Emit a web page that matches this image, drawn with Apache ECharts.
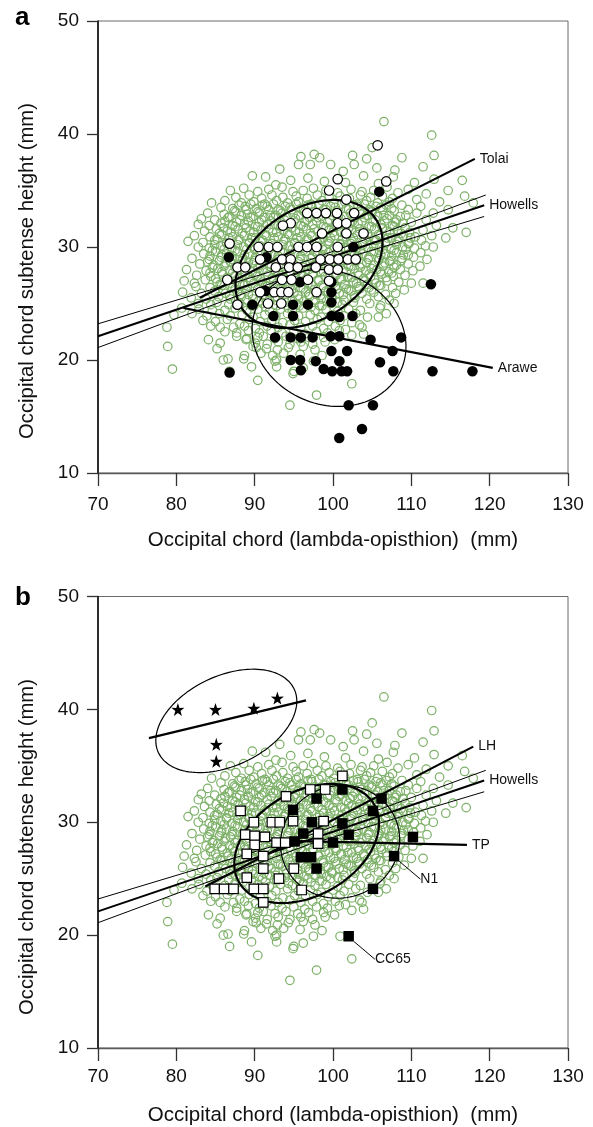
<!DOCTYPE html>
<html>
<head>
<meta charset="utf-8">
<script src="https://cdn.jsdelivr.net/npm/echarts@6/dist/echarts.min.js"></script>
<style>
  html, body { margin: 0; padding: 0; background: #fff; }
  #chart { width: 593px; height: 1127px; }
</style>
</head>
<body>
<div id="chart"></div>
<script>
// Axis ranges shared by both panels (mm)
const xRange = [70, 130];
const yRange = [10, 50];
const tickStep = 10;

// Howells reference sample: occipital chord (x) vs subtense height (y), mm
const howellsHigh = [
  [106.5,41.1],[112.6,39.9],[105.0,38.8],[95.9,38.0],[97.6,38.2],[98.3,37.9],[102.5,38.1],[108.8,37.9],[112.9,38.1],[104.3,37.8],
  [95.6,37.3],[97.1,37.3],[99.7,37.3],[102.7,37.3],[111.5,37.1],[93.2,36.9],[101.3,36.7],[105.6,37.0],[107.9,36.8],
  [89.7,36.3],[91.4,36.2],[94.6,35.9],[107.7,36.2],[112.9,36.0],[116.5,35.9],[96.8,36.1],[98.9,35.8],[103.9,36.3],[105.8,35.6],[110.4,35.7],[92.7,35.5],[101.6,35.7],
  [86.9,35.0],[94.9,34.9],[114.7,35.0],[88.6,35.2],[90.4,34.9],[91.8,35.1],[93.5,35.3],[96.2,35.0],[97.5,35.2],[99.1,35.0],[100.6,34.8],[102.3,35.1],[103.7,34.9],[105.2,35.0],[106.9,35.3],[108.3,34.8],[111.9,34.7],[109.6,35.1],
  [87.6,34.4],[89.3,34.6],[90.9,34.3],[92.2,34.6],[93.6,34.4],[95.3,34.5],[96.7,34.3],[98.0,34.6],[99.5,34.4],[100.9,34.5],[102.1,34.3],[103.5,34.6],[104.8,34.4],[106.3,34.5],[107.6,34.3],[110.7,34.2],[116.8,34.5],
  [84.5,33.9],[86.2,34.1],[88.3,33.9],[89.9,34.0],[91.3,33.8],[92.8,34.1],[94.2,33.9],[95.6,34.0],[97.2,33.8],[98.6,34.1],[100.1,33.9],[101.5,34.0],[103.1,33.8],[104.3,34.1],[105.7,33.9],[107.2,34.0],[108.8,33.7],[117.9,33.9],[113.6,34.0],
  [85.7,33.5],[87.2,33.4],[88.8,33.6],[90.2,33.4],[91.6,33.6],[93.0,33.3],[94.5,33.5],[95.9,33.4],[97.3,33.6],[98.8,33.3],[100.3,33.5],[101.7,33.4],[103.2,33.6],[104.6,33.3],[106.1,33.5],[107.5,33.4],[109.6,33.3],[114.7,33.3],[111.2,33.6],
  [84.0,33.0],[86.1,32.9],[87.6,33.1],[89.1,32.9],[90.6,33.0],[92.0,32.8],[93.5,33.0],[94.9,32.9],[96.4,33.1],[97.8,32.9],[99.2,33.0],[100.7,32.8],[102.2,33.0],[103.6,32.9],[105.0,33.1],[106.5,32.8],[108.1,32.4],[109.3,32.8],[110.7,33.0],[112.8,33.0],
  [83.2,32.5],[84.9,32.4],[86.6,32.6],[88.1,32.4],[89.5,32.6],[90.9,32.4],[92.4,32.6],[93.8,32.4],[95.2,32.5],[96.7,32.4],[98.1,32.6],[99.6,32.4],[101.0,32.5],[102.5,32.3],[104.0,32.6],[105.4,32.4],[106.9,32.5],[110.0,32.2],[111.9,32.4],
  [82.8,32.0],[84.2,31.9],[85.7,32.1],[87.2,31.9],[88.7,32.0],[90.1,31.8],[91.6,32.0],[93.0,31.9],[94.5,32.1],[95.9,31.9],[97.4,32.0],[98.8,31.8],[100.3,32.0],[101.7,31.9],[103.2,32.1],[104.6,31.8],[106.1,32.0],[107.6,31.9],[108.9,32.1],[115.3,31.7],[113.2,31.9]
];
const howellsMid = [
  [83.6,31.4],[85.1,31.6],[86.5,31.4],[87.9,31.6],[89.4,31.4],[90.8,31.5],[92.3,31.3],[93.7,31.5],[95.2,31.4],[96.6,31.6],[98.1,31.4],[99.5,31.5],[101.0,31.3],[102.4,31.5],[103.9,31.4],[105.3,31.6],[106.8,31.4],[108.2,31.5],[109.8,31.3],[111.5,31.5],[117.0,31.3],
  [82.3,31.0],[84.3,30.9],[85.8,31.1],[87.2,30.9],[88.7,31.0],[90.1,30.8],[91.5,31.0],[93.0,30.9],[94.4,31.1],[95.9,30.9],[97.3,31.0],[98.8,30.8],[100.2,31.0],[101.7,30.9],[103.1,31.1],[104.6,30.9],[106.0,31.0],[107.5,30.8],[109.0,31.0],[110.5,30.9],[112.6,31.0],[114.4,30.8],
  [81.5,30.5],[83.4,30.4],[84.9,30.6],[86.4,30.4],[87.9,30.6],[89.3,30.4],[90.8,30.5],[92.2,30.3],[93.7,30.5],[95.1,30.4],[96.6,30.6],[98.0,30.4],[99.5,30.5],[100.9,30.3],[102.4,30.5],[103.8,30.4],[105.3,30.6],[106.7,30.4],[108.2,30.5],[109.7,30.3],[111.3,30.6],[112.8,30.0],
  [82.8,30.0],[84.2,29.9],[85.7,30.1],[87.1,29.9],[88.6,30.0],[90.0,29.8],[91.5,30.0],[92.9,29.9],[94.4,30.1],[95.8,29.9],[97.3,30.0],[98.7,29.8],[100.2,30.0],[101.6,29.9],[103.1,30.1],[104.5,29.9],[106.0,30.0],[107.4,29.8],[108.9,30.0],[110.4,29.9],[111.8,30.1],
  [83.5,29.4],[85.0,29.6],[86.4,29.4],[87.8,29.6],[89.3,29.4],[90.7,29.5],[92.2,29.3],[93.6,29.5],[95.1,29.4],[96.5,29.6],[98.0,29.4],[99.4,29.5],[100.9,29.3],[102.3,29.5],[103.8,29.4],[105.2,29.6],[106.7,29.4],[108.1,29.5],[109.6,29.3],[111.2,29.5],
  [82.0,29.0],[84.2,28.9],[85.7,29.1],[87.1,28.9],[88.5,29.0],[90.0,28.8],[91.4,29.0],[92.9,28.9],[94.3,29.1],[95.8,28.9],[97.2,29.0],[98.7,28.8],[100.1,29.0],[101.6,28.9],[103.0,29.1],[104.5,28.9],[105.9,29.0],[107.4,28.8],[108.8,29.0],[110.3,29.1],[112.0,28.9],
  [83.0,28.5],[84.8,28.4],[86.3,28.6],[87.8,28.4],[89.2,28.6],[90.7,28.4],[92.1,28.5],[93.6,28.3],[95.0,28.5],[96.5,28.4],[97.9,28.6],[99.4,28.4],[100.8,28.5],[102.3,28.3],[103.7,28.5],[105.2,28.4],[106.6,28.6],[108.1,28.4],[109.6,28.5],[111.1,28.3],
  [81.3,28.0],[83.8,27.9],[85.3,28.1],[86.8,27.9],[88.2,28.0],[89.7,27.8],[91.1,28.0],[92.6,27.9],[94.0,28.1],[95.5,27.9],[96.9,28.0],[98.4,27.8],[99.8,28.0],[101.3,27.9],[102.7,28.1],[104.2,27.9],[105.6,28.0],[107.1,27.8],[108.6,28.0],[110.2,27.9],
  [82.6,27.5],[84.4,27.4],[85.9,27.6],[87.4,27.4],[88.8,27.6],[90.3,27.4],[91.7,27.5],[93.2,27.3],[94.6,27.5],[96.1,27.4],[97.5,27.6],[99.0,27.4],[100.4,27.5],[101.9,27.3],[103.3,27.5],[104.8,27.4],[106.2,27.6],[107.7,27.4],[109.2,27.5],
  [81.0,27.0],[82.3,26.8],[83.7,27.1],[85.2,26.9],[86.6,27.0],[88.1,26.8],[89.5,27.0],[91.0,26.9],[92.4,27.1],[93.9,26.9],[95.3,27.0],[96.8,26.8],[98.2,27.0],[99.7,26.9],[101.1,27.1],[102.6,26.9],[104.0,27.0],[105.5,26.8],[106.9,27.0],[108.4,26.9],[110.0,26.8],[111.5,26.8],
  [82.5,26.5],[84.3,26.4],[85.8,26.6],[87.2,26.4],[88.7,26.6],[90.1,26.4],[91.6,26.5],[93.0,26.3],[94.5,26.5],[95.9,26.4],[97.4,26.6],[98.8,26.4],[100.3,26.5],[101.7,26.3],[103.2,26.5],[104.6,26.4],[106.1,26.6],[107.6,26.4],[109.1,26.2]
];
const howellsLow = [
  [80.8,26.0],[83.2,25.9],[84.9,26.1],[86.3,25.9],[87.8,26.0],[89.2,25.8],[90.7,26.0],[92.1,25.9],[93.6,26.1],[95.0,25.9],[96.5,26.0],[97.9,25.8],[99.4,26.0],[100.8,25.9],[102.3,26.1],[103.7,25.9],[105.2,26.0],[106.7,25.8],[108.0,25.9],
  [81.9,25.5],[83.8,25.4],[85.4,25.6],[86.9,25.4],[88.3,25.6],[89.8,25.4],[91.2,25.5],[92.7,25.3],[94.1,25.5],[95.6,25.4],[97.0,25.6],[98.5,25.4],[99.9,25.5],[101.4,25.3],[102.8,25.5],[104.3,25.4],[105.8,25.6],[107.2,25.3],
  [82.8,25.0],[84.4,24.9],[85.2,25.1],[86.7,24.9],[88.1,25.0],[89.6,24.8],[91.0,25.0],[92.5,24.9],[93.9,25.1],[95.4,24.9],[96.8,25.0],[98.3,24.8],[99.7,25.0],[101.2,24.9],[102.6,25.1],[104.7,25.0],[107.8,25.0],[106.1,24.8],
  [80.7,24.6],[82.9,24.5],[84.6,24.4],[86.2,24.4],[87.5,24.6],[89.0,24.4],[90.4,24.5],[91.9,24.3],[93.3,24.5],[94.8,24.4],[96.2,24.6],[97.7,24.4],[99.1,24.5],[100.6,24.3],[102.0,24.5],[103.5,24.4],[106.0,24.6],
  [79.7,24.0],[82.0,24.1],[83.9,23.9],[85.5,24.1],[86.9,23.9],[88.4,24.0],[89.8,23.8],[91.3,24.0],[92.7,23.9],[94.2,24.1],[95.6,23.9],[97.1,24.0],[98.5,23.8],[100.0,24.0],[101.4,23.9],[102.9,24.1],[106.8,24.1],[104.4,23.8],
  [83.4,23.5],[85.0,23.4],[86.5,23.6],[88.1,23.2],[89.3,23.6],[90.7,23.4],[92.2,23.5],[93.6,23.3],[95.1,23.5],[96.5,23.4],[98.0,23.6],[99.4,23.4],[100.9,23.5],[102.4,23.3],[105.8,23.8],
  [78.8,22.9],[84.4,23.0],[85.6,22.9],[87.3,22.9],[88.7,23.0],[90.1,22.8],[91.6,23.0],[93.0,22.9],[94.5,23.1],[95.9,22.9],[97.4,23.0],[98.8,22.8],[100.3,23.0],[103.4,23.1],[103.7,22.9],[101.6,22.7],
  [86.2,22.5],[87.7,22.4],[89.2,22.6],[90.6,22.4],[92.1,22.6],[93.5,22.4],[95.0,22.5],[96.4,22.3],[97.9,22.5],[99.3,22.4],[100.8,22.6],[102.4,22.2],
  [84.1,21.8],[87.7,22.1],[89.0,21.9],[90.4,22.0],[91.1,22.1],[92.6,21.9],[94.0,22.1],[95.5,21.9],[96.9,22.0],[98.8,22.0],[100.2,21.8],[103.9,22.3],
  [85.6,21.5],[88.9,21.8],[90.1,21.5],[91.6,21.4],[93.0,21.6],[94.5,21.4],[95.9,21.6],[97.4,21.4],[99.0,21.6],
  [78.9,21.2],[85.2,21.0],[89.8,21.2],[90.2,21.1],[91.5,21.0],[92.9,20.9],[94.3,21.1],[96.2,21.2],[97.7,20.9],
  [88.7,20.4],[90.8,20.6],[92.3,20.4],[93.7,20.6],[95.8,20.5],[98.6,20.4],
  [86.0,20.0],[86.6,20.1],[88.6,20.1],[92.8,20.0],[92.6,19.9],[97.5,19.9],[100.9,19.9],
  [79.5,19.2],[89.6,19.4],[92.8,19.4],[96.2,19.3],[95.0,19.0],[86.8,19.0],
  [90.4,18.2],[94.9,18.8],[102.4,17.9],[97.9,16.9],[94.5,16.0]
];
// Howells: the crowded centre of the cloud
const howellsCore = [
  [88.0,33.7],[89.5,33.8],[91.0,33.7],[92.4,33.8],[93.9,33.6],[95.3,33.8],[96.8,33.7],[98.2,33.8],[99.7,33.6],[101.1,33.8],[102.6,33.7],[104.0,33.8],[105.5,33.6],[106.8,33.7],
  [87.4,33.2],[88.9,33.3],[90.4,33.1],[91.8,33.3],[93.3,33.2],[94.7,33.3],[96.2,33.2],[97.6,33.1],[99.1,33.3],[100.5,33.2],[102.0,33.3],[103.4,33.1],[104.9,33.2],[106.3,33.3],[107.8,33.2],
  [86.8,32.7],[88.3,32.8],[89.8,32.7],[91.2,32.6],[92.7,32.8],[94.1,32.7],[95.6,32.8],[97.0,32.6],[98.5,32.7],[99.9,32.8],[101.4,32.7],[102.8,32.6],[104.3,32.8],[105.7,32.7],[107.2,32.8],[108.6,32.7],
  [86.2,32.3],[87.7,32.2],[89.2,32.3],[90.6,32.2],[92.1,32.3],[93.5,32.1],[95.0,32.3],[96.4,32.2],[97.9,32.3],[99.3,32.2],[100.8,32.3],[102.2,32.1],[103.7,32.3],[105.1,32.2],[106.6,32.3],[108.0,32.2],
  [86.0,31.7],[87.5,31.8],[88.9,31.7],[90.4,31.8],[91.8,31.6],[93.3,31.8],[94.7,31.7],[96.2,31.8],[97.6,31.6],[99.1,31.7],[100.5,31.8],[102.0,31.7],[103.4,31.6],[104.9,31.8],[106.3,31.7],[107.8,31.8],[109.2,31.7],
  [85.5,31.2],[87.0,31.3],[88.4,31.2],[89.9,31.3],[91.3,31.1],[92.8,31.3],[94.2,31.2],[95.7,31.3],[97.1,31.2],[98.6,31.1],[100.0,31.3],[101.5,31.2],[102.9,31.3],[104.4,31.2],[105.8,31.1],[107.3,31.3],[108.7,31.2],
  [85.2,30.7],[86.7,30.8],[88.1,30.7],[89.6,30.8],[91.0,30.6],[92.5,30.8],[93.9,30.7],[95.4,30.8],[96.8,30.7],[98.3,30.6],[99.7,30.8],[101.2,30.7],[102.6,30.8],[104.1,30.7],[105.5,30.6],[107.0,30.8],[108.4,30.7],[109.9,30.8],
  [84.9,30.2],[86.4,30.3],[87.8,30.2],[89.3,30.3],[90.7,30.1],[92.2,30.3],[93.6,30.2],[95.1,30.3],[96.5,30.2],[98.0,30.1],[99.4,30.3],[100.9,30.2],[102.3,30.3],[103.8,30.2],[105.2,30.1],[106.7,30.3],[108.1,30.2],[109.6,30.3],
  [84.6,29.7],[86.1,29.8],[87.5,29.7],[89.0,29.8],[90.4,29.6],[91.9,29.8],[93.3,29.7],[94.8,29.8],[96.2,29.7],[97.7,29.6],[99.1,29.8],[100.6,29.7],[102.0,29.8],[103.5,29.7],[104.9,29.6],[106.4,29.8],[107.8,29.7],[109.3,29.8],
  [84.3,29.2],[85.8,29.3],[87.2,29.2],[88.7,29.3],[90.1,29.1],[91.6,29.3],[93.0,29.2],[94.5,29.3],[95.9,29.2],[97.4,29.1],[98.8,29.3],[100.3,29.2],[101.7,29.3],[103.2,29.2],[104.6,29.1],[106.1,29.3],[107.5,29.2],[109.0,29.3],
  [84.0,28.7],[85.5,28.8],[86.9,28.7],[88.4,28.8],[89.8,28.6],[91.3,28.8],[92.7,28.7],[94.2,28.8],[95.6,28.7],[97.1,28.6],[98.5,28.8],[100.0,28.7],[101.4,28.8],[102.9,28.7],[104.3,28.6],[105.8,28.8],[107.2,28.7],[108.7,28.8],
  [84.6,28.2],[86.1,28.3],[87.5,28.2],[89.0,28.3],[90.4,28.1],[91.9,28.3],[93.3,28.2],[94.8,28.3],[96.2,28.2],[97.7,28.1],[99.1,28.3],[100.6,28.2],[102.0,28.3],[103.5,28.2],[104.9,28.1],[106.4,28.3],[107.8,28.2],
  [84.3,27.7],[85.8,27.8],[87.2,27.7],[88.7,27.8],[90.1,27.6],[91.6,27.8],[93.0,27.7],[94.5,27.8],[95.9,27.7],[97.4,27.6],[98.8,27.8],[100.3,27.7],[101.7,27.8],[103.2,27.7],[104.6,27.6],[106.1,27.8],[107.5,27.7],
  [85.0,27.2],[86.5,27.3],[87.9,27.2],[89.4,27.3],[90.8,27.1],[92.3,27.3],[93.7,27.2],[95.2,27.3],[96.6,27.2],[98.1,27.1],[99.5,27.3],[101.0,27.2],[102.4,27.3],[103.9,27.2],[105.3,27.1],[106.8,27.3],
  [85.6,26.7],[87.0,26.8],[88.5,26.7],[89.9,26.8],[91.4,26.6],[92.8,26.8],[94.3,26.7],[95.7,26.8],[97.2,26.7],[98.6,26.6],[100.1,26.8],[101.5,26.7],[103.0,26.8],[104.4,26.7],[105.9,26.6],
  [86.0,26.2],[87.5,26.3],[88.9,26.2],[90.4,26.3],[91.8,26.1],[93.3,26.3],[94.7,26.2],[96.2,26.3],[97.6,26.2],[99.1,26.1],[100.5,26.3],[102.0,26.2],[103.4,26.3],[104.9,26.2],
  [86.8,25.7],[88.2,25.8],[89.7,25.7],[91.1,25.8],[92.6,25.6],[94.0,25.8],[95.5,25.7],[96.9,25.8],[98.4,25.7],[99.8,25.6],[101.3,25.8],[102.7,25.7],
  [87.6,25.2],[89.0,25.3],[90.5,25.2],[91.9,25.3],[93.4,25.1],[94.8,25.3],[96.3,25.2],[97.7,25.3],[99.2,25.2],[100.6,25.1],
  [88.5,24.7],[89.9,24.8],[91.4,24.7],[92.8,24.8],[94.3,24.6],[95.7,24.8],[97.2,24.7],[98.6,24.8]
];

// Panel a groups
const tolai = [
  [105.7,39.0],[106.8,35.8],[100.6,36.0],[99.5,35.0],[101.7,34.2],[96.7,33.0],[97.9,33.0],[99.1,33.0],[100.5,33.0],[102.7,33.0],
  [94.6,32.1],[93.6,31.9],[100.6,32.1],[101.7,32.1],[98.6,31.2],[101.7,31.2],[103.9,31.2],[86.8,30.3],[90.5,30.0],[91.8,30.0],
  [92.9,30.0],[95.6,30.0],[96.7,30.0],[97.9,30.0],[100.6,30.0],[90.7,28.9],[93.5,28.9],[94.6,28.9],[98.4,28.9],[99.6,28.9],
  [100.7,28.9],[101.9,28.9],[102.9,28.9],[87.8,28.2],[88.8,28.2],[92.7,28.2],[94.4,28.2],[95.5,28.2],[97.8,28.2],[99.5,28.0],
  [100.6,28.0],[86.5,27.1],[93.5,27.1],[94.7,27.1],[96.8,27.1],[99.5,27.0],[90.7,26.0],[92.5,26.0],[93.4,26.0],[94.3,26.0],
  [97.9,26.0],[91.7,25.0],[93.4,25.0],[87.8,24.9]
];
const arawe = [
  [105.9,34.9],[102.6,30.0],[86.7,29.1],[91.5,29.1],[95.8,26.9],[99.8,26.9],[91.4,26.1],[99.8,26.0],[89.7,24.9],[94.9,24.9],
  [96.8,24.9],[99.8,25.1],[92.4,23.9],[94.9,23.9],[99.8,23.9],[100.8,23.8],[102.5,23.9],[92.6,22.0],[94.6,22.0],[95.9,22.0],
  [97.4,22.0],[99.7,22.1],[100.8,22.1],[104.8,21.8],[108.7,22.0],[99.8,20.8],[101.8,20.8],[107.6,20.8],[94.6,20.0],[95.8,20.0],
  [97.8,19.9],[100.8,19.9],[106.0,19.8],[86.8,18.9],[95.9,19.1],[98.8,19.2],[99.9,19.0],[101.1,19.0],[101.8,19.0],[107.7,19.0],
  [112.7,19.0],[117.8,19.0],[112.5,26.7],[102.0,16.0],[105.1,16.0],[103.7,13.9],[100.8,13.1]
];

// Panel b groups
const openSquares = [
  [94.0,32.3],[97.1,32.9],[99.0,32.9],[101.2,34.1],[88.2,31.0],[89.9,30.0],[92.2,30.0],[93.2,30.0],[94.9,30.1],[98.8,30.1],
  [88.8,28.9],[90.0,28.8],[91.3,28.7],[90.0,28.0],[92.8,28.2],[93.9,28.2],[98.1,29.0],[98.1,28.1],[89.0,27.2],[91.1,27.0],
  [91.1,25.9],[95.0,25.9],[89.0,25.1],[93.1,25.0],[84.9,24.1],[86.1,24.1],[87.3,24.1],[89.9,24.1],[91.1,24.1],[96.0,24.0],
  [91.1,22.9]
];
const filledSquares = [
  [101.2,32.9],[97.9,32.1],[94.9,31.1],[106.2,32.1],[105.1,31.0],[97.3,30.0],[101.2,29.9],[96.2,29.0],[102.0,28.9],[95.1,28.3],
  [100.0,28.2],[110.2,28.7],[95.9,26.9],[97.2,26.9],[97.9,25.9],[105.1,24.1]
];
const namedSpecimens = [['N1', 107.8, 27.0], ['CC65', 102.0, 19.9]];
const stars = [[80.2,40.0],[85.0,40.0],[89.9,40.1],[92.9,41.0],[85.1,36.9],[85.1,35.4]];

// Fitted lines (endpoints) and confidence band for Howells
const howellsFit   = [[70, 22.1], [119.3, 33.7]];
const howellsUpper = [[70, 23.2], [97, 28.85], [119.5, 34.6]];
const howellsLower = [[70, 21.1], [97, 28.05], [119.3, 32.7]];
const tolaiFit = [[83.0, 25.5], [118.1, 37.8]];
const araweFit = [[80.9, 24.6], [120.4, 19.3]];
const lhFit    = [[83.7, 24.3], [117.9, 36.7]];
const tpFit    = [[91.5, 28.4], [117.1, 28.0]];
const starFit  = [[76.5, 37.45], [96.55, 40.8]];

// Ellipses: [centre x, centre y, major half-axis (dx, dy), minor half-axis (dx, dy)]
const tolaiEllipse = [96.94, 28.5, 8.53, 3.97, 3.92, -4.04];
const araweEllipse = [99.49, 21.95, 9.23, -2.77, -3.37, -5.39];
const lhEllipse    = [96.64, 28.12, 8.62, 3.45, 3.32, -3.99];
const tpEllipse    = [100.9, 28.27, 7.20, 1.82, 2.45, -4.66];
const starEllipse  = [86.38, 38.98, 8.66, 2.83, 2.45, -3.60];

const FONT = '"Liberation Sans", Arial, sans-serif';
const GREEN = '#7cb067';
const howells = howellsHigh.concat(howellsMid, howellsCore, howellsLow);

function ellipsePath(e) {
  const [cx, cy, ax, ay, bx, by] = e;
  const pts = [];
  for (let i = 0; i <= 120; i++) {
    const t = (i / 120) * Math.PI * 2;
    pts.push([cx + ax * Math.cos(t) + bx * Math.sin(t), cy + ay * Math.cos(t) + by * Math.sin(t)]);
  }
  return pts;
}

function xAxisCfg(gridIndex, margin) {
  return {
    type: 'value', gridIndex, min: xRange[0], max: xRange[1], interval: tickStep,
    name: 'Occipital chord (lambda-opisthion)  (mm)', nameLocation: 'middle', nameGap: 57,
    nameTextStyle: { fontSize: 20.5, color: '#111', fontFamily: FONT },
    axisLine: { onZero: false, lineStyle: { color: '#5a5a5a', width: 1.3 } },
    axisTick: { length: 13, lineStyle: { color: '#333', width: 1.3 } },
    axisLabel: { margin, fontSize: 19, color: '#111', fontFamily: FONT },
    splitLine: { show: false }
  };
}
function yAxisCfg(gridIndex) {
  return {
    type: 'value', gridIndex, min: yRange[0], max: yRange[1], interval: tickStep,
    axisLine: { onZero: false, lineStyle: { color: '#000', width: 1.5 } },
    axisTick: { length: 11, lineStyle: { color: '#333', width: 1.3 } },
    axisLabel: { margin: 19, fontSize: 19, color: '#111', fontFamily: FONT },
    splitLine: { show: false }
  };
}

function scatter(p, data, opts) {
  return Object.assign({
    type: 'scatter', xAxisIndex: p, yAxisIndex: p, data, animation: false, progressive: 0,
    silent: true
  }, opts);
}
function line(p, data, width, z, labelText) {
  const s = {
    type: 'line', xAxisIndex: p, yAxisIndex: p, data, showSymbol: false, symbol: 'none',
    lineStyle: { color: '#000', width }, z, animation: false, silent: true
  };
  if (labelText) {
    s.endLabel = { show: true, formatter: labelText, distance: 5, fontSize: 14, color: '#111', fontFamily: FONT };
  }
  return s;
}

const greenStyle = { color: 'rgba(0,0,0,0)', borderColor: GREEN, borderWidth: 1.2, opacity: 1 };
const STAR = 'path://M50,0L61.8,35.1L97.6,34.5L69,56.1L79.4,90.5L50,70L20.6,90.5L31,56.1L2.4,34.5L38.2,35.1Z';

const series = [
  // panel a
  scatter(0, howells, { symbol: 'circle', symbolSize: 8.5, itemStyle: greenStyle, z: 1 }),
  line(0, howellsUpper, 1, 3),
  line(0, howellsLower, 1, 3),
  line(0, howellsFit, 2, 3, 'Howells'),
  line(0, tolaiFit, 2.2, 3, 'Tolai'),
  line(0, araweFit, 2.2, 3, 'Arawe'),
  line(0, ellipsePath(tolaiEllipse), 2.2, 3),
  line(0, ellipsePath(araweEllipse), 1.2, 3),
  scatter(0, arawe, { symbol: 'circle', symbolSize: 10.5, itemStyle: { color: '#000', opacity: 1 }, z: 5 }),
  scatter(0, tolai, { symbol: 'circle', symbolSize: 9.5, itemStyle: { color: '#fff', borderColor: '#000', borderWidth: 1.2, opacity: 1 }, z: 6 }),
  // panel b
  scatter(1, howells, { symbol: 'circle', symbolSize: 8.5, itemStyle: greenStyle, z: 1 }),
  line(1, howellsUpper, 1, 3),
  line(1, howellsLower, 1, 3),
  line(1, howellsFit, 2, 3, 'Howells'),
  line(1, lhFit, 2.2, 3, 'LH'),
  line(1, tpFit, 2.2, 3, 'TP'),
  line(1, starFit, 2.2, 3),
  line(1, ellipsePath(lhEllipse), 2.2, 3),
  line(1, ellipsePath(tpEllipse), 1.2, 3),
  line(1, ellipsePath(starEllipse), 1.2, 3),
  scatter(1, openSquares, { symbol: 'rect', symbolSize: 9.5, itemStyle: { color: '#fff', borderColor: '#000', borderWidth: 1.2, opacity: 1 }, z: 5 }),
  scatter(1, filledSquares.concat(namedSpecimens.map(s => ({
      value: [s[1], s[2]], label: { show: true, formatter: s[0] }
    }))), {
    symbol: 'rect', symbolSize: 10.5, itemStyle: { color: '#000', opacity: 1 }, z: 6,
    label: { show: false, position: 'right', distance: 5, fontSize: 14, color: '#111', fontFamily: FONT },
    labelLayout: { dx: 16, dy: 23 },
    labelLine: { show: true, lineStyle: { color: '#000', width: 1 } }
  }),
  scatter(1, stars, { symbol: STAR, symbolSize: 13, itemStyle: { color: '#000', opacity: 1 }, z: 6 })
];

const chart = echarts.init(document.getElementById('chart'), null, { renderer: 'canvas' });
chart.setOption({
  animation: false,
  backgroundColor: '#fff',
  grid: [
    { left: 98, top: 21, width: 470, height: 452, show: true, borderColor: '#6a6a6a', borderWidth: 1, containLabel: false },
    { left: 98, top: 596.5, width: 470, height: 452, show: true, borderColor: '#6a6a6a', borderWidth: 1, containLabel: false }
  ],
  xAxis: [xAxisCfg(0, 22), xAxisCfg(1, 19)],
  yAxis: [yAxisCfg(0), yAxisCfg(1)],
  graphic: [
    { type: 'text', x: 15, y: 18, style: { text: 'a', fontSize: 26, fontWeight: 'bold', fontFamily: FONT, fill: '#000', align: 'left', verticalAlign: 'middle' } },
    { type: 'text', x: 15, y: 598, style: { text: 'b', fontSize: 26, fontWeight: 'bold', fontFamily: FONT, fill: '#000', align: 'left', verticalAlign: 'middle' } },
    { type: 'text', x: 27, y: 271, rotation: Math.PI / 2, style: { text: 'Occipital chord subtense height (mm)', fontSize: 20.3, fontFamily: FONT, fill: '#111', align: 'center', verticalAlign: 'middle' } },
    { type: 'text', x: 27, y: 847, rotation: Math.PI / 2, style: { text: 'Occipital chord subtense height (mm)', fontSize: 20.3, fontFamily: FONT, fill: '#111', align: 'center', verticalAlign: 'middle' } }
  ],
  series
});
</script>
</body>
</html>
